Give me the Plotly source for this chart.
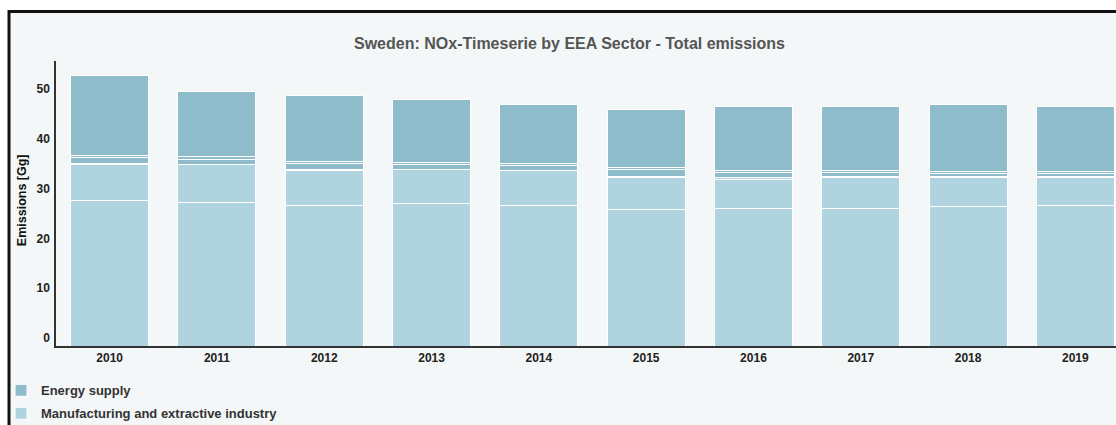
import plotly.graph_objects as go

years = ["2010", "2011", "2012", "2013", "2014", "2015", "2016", "2017", "2018", "2019"]

# stacked segments, bottom to top (Gg)
manufacturing = [29.2, 28.9, 28.1, 28.7, 28.2, 27.3, 27.5, 27.5, 27.9, 28.1]
sector_b = [7.3, 7.5, 7.2, 6.7, 7.0, 6.5, 6.0, 6.4, 5.9, 5.7]
sector_c = [0.1, 0.1, 0.2, 0.1, 0.1, 0.3, 0.3, 0.2, 0.2, 0.2]
sector_d = [1.2, 1.0, 1.1, 0.9, 0.9, 1.4, 1.0, 0.7, 0.7, 0.7]
sector_e = [0.5, 0.5, 0.5, 0.4, 0.4, 0.4, 0.5, 0.4, 0.4, 0.4]
energy_supply = [15.9, 13.0, 13.1, 12.6, 11.8, 11.5, 12.7, 12.8, 13.3, 12.9]

DARK = "#8fbccb"
LIGHT = "#afd3df"
BG = "#f3f7f7"
FONT = "Liberation Sans"

series = [
    ("Manufacturing and extractive industry", manufacturing, LIGHT, True, 2),
    ("Sector B", sector_b, LIGHT, False, 3),
    ("Sector C", sector_c, LIGHT, False, 4),
    ("Sector D", sector_d, DARK, False, 5),
    ("Sector E", sector_e, DARK, False, 6),
    ("Energy supply", energy_supply, DARK, True, 1),
]

fig = go.Figure()
for name, vals, col, show, rank in series:
    fig.add_trace(go.Bar(
        x=years, y=vals, name=name, marker=dict(color=col, line=dict(color="white", width=1)),
        showlegend=show, legendgroup=name, legendrank=rank,
    ))

W, H = 1116, 425
L, T = 56, 61
B = 425 - 345.7
plot_w = W - L
plot_h = H - T - B

def px_x(p):
    return (p - L) / plot_w

def px_y(p):
    return (H - B - p) / plot_h

fig.update_layout(
    width=W, height=H,
    margin=dict(l=L, r=0, t=T, b=B, autoexpand=False),
    barmode="stack", bargap=0.273,
    paper_bgcolor="white", plot_bgcolor="rgba(0,0,0,0)",
    font=dict(family=FONT, size=12, color="#222"),
    xaxis=dict(range=[-0.5, -0.5 + plot_w / 107.3], showgrid=False, showline=True,
               linecolor="#333", linewidth=1.5, ticks="", zeroline=False,
               tickfont=dict(family=FONT, size=12, color="#222", weight="bold")),
    yaxis=dict(range=[0, 57.2], tickvals=[0, 10, 20, 30, 40, 50], showgrid=False,
               showline=True, linecolor="#333", linewidth=1.5, ticks="", zeroline=False,
               ticklabelshift=-8, ticklabelstandoff=2,
               tickfont=dict(family=FONT, size=12, color="#222", weight="bold")),
    legend=dict(x=px_x(1), y=px_y(375), xanchor="left", yanchor="top",
                orientation="v", bgcolor="rgba(0,0,0,0)", tracegroupgap=3,
                font=dict(family=FONT, size=13, color="#333", weight="bold")),
    shapes=[dict(type="rect", xref="paper", yref="paper", x0=px_x(9), x1=1.2,
                 y0=-1, y1=px_y(11.5), line=dict(color="#111", width=3),
                 fillcolor=BG, layer="below")],
    annotations=[
        dict(text="Sweden: NOx-Timeserie by EEA Sector - Total emissions", xref="paper", yref="paper",
             x=px_x(569), y=px_y(44), xanchor="center", yanchor="middle", showarrow=False,
             font=dict(family=FONT, size=16, color="#555", weight="bold")),
        dict(text="Emissions [Gg]", xref="paper", yref="paper", x=px_x(22), y=px_y(200),
             xanchor="center", yanchor="middle", textangle=-90, showarrow=False,
             font=dict(family=FONT, size=12.5, color="#111", weight="bold")),
    ],
)

fig.write_html("out.html", config={"displayModeBar": False},
               post_script="document.body.style.margin='0';document.body.style.overflow='hidden';")
